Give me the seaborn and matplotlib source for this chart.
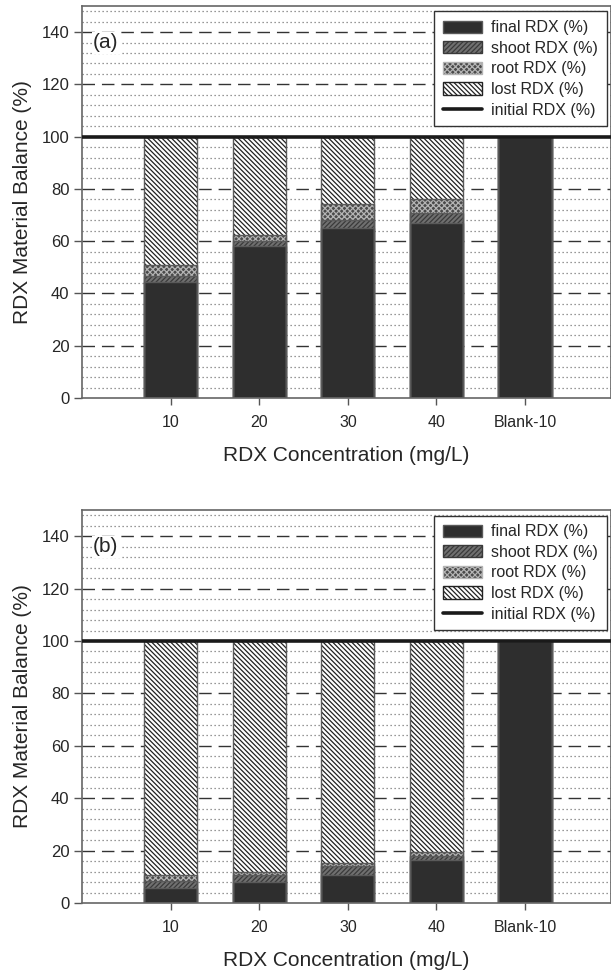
import numpy as np
import pandas as pd
import matplotlib
matplotlib.use("Agg")
import matplotlib.pyplot as plt
from matplotlib.patches import Patch
from matplotlib.lines import Line2D
import seaborn as sns

categories = ["10", "20", "30", "40", "Blank-10"]

final_a = [44.4, 58.1, 65.1, 66.9, 100.0]
shoot_a = [2.3, 1.9, 3.0, 3.7, 0.0]
root_a = [4.3, 2.2, 6.2, 5.7, 0.0]
lost_a = [49.0, 37.8, 25.7, 23.7, 0.0]

final_b = [5.9, 7.9, 10.6, 16.6, 100.0]
shoot_b = [2.5, 2.8, 3.4, 1.4, 0.0]
root_b = [2.1, 1.3, 1.3, 1.5, 0.0]
lost_b = [89.5, 88.0, 84.7, 80.5, 0.0]

initial_rdx = 100.0
yticks = [0, 20, 40, 60, 80, 100, 120, 140]
panel_labels = ["(a)", "(b)"]

sns.set_style("white")
plt.rcParams["font.family"] = ["Liberation Sans", "DejaVu Sans"]
plt.rcParams["hatch.linewidth"] = 0.9

fig = plt.figure(figsize=(6.11, 9.71), dpi=100)
ax_a = fig.add_axes([82 / 611, 1 - 398 / 971, 1 - 82 / 611, (398 - 6) / 971])
ax_b = fig.add_axes([82 / 611, 1 - 903 / 971, 1 - 82 / 611, (903 - 510) / 971])

EDGE = "#5a5a5a"
styles = {
    "lost": dict(face="white", hatch="\\" * 7, hcol="#222222"),
    "root": dict(face="#4a4a4a", hatch="x" * 6, hcol="#b4b4b4"),
    "shoot": dict(face="#707070", hatch="/" * 7, hcol="#3a3a3a"),
    "final": dict(face="#2e2e2e", hatch=None, hcol="#2e2e2e"),
}


def draw_panel(ax, final, shoot, root, lost, label):
    final = np.array(final)
    shoot = np.array(shoot)
    root = np.array(root)
    lost = np.array(lost)
    tops = {
        "final": final,
        "shoot": final + shoot,
        "root": final + shoot + root,
        "lost": final + shoot + root + lost,
    }
    for y in np.arange(4, 150, 4):
        if y % 20 == 0:
            continue
        ax.axhline(y, color="#777777", lw=0.9, ls=(0, (1, 2.2)), zorder=0.5)
    for y in [20, 40, 60, 80, 120, 140]:
        ax.axhline(y, color="#333333", lw=1.0, ls=(0, (9, 5)), zorder=0.6)

    for name in ["lost", "root", "shoot", "final"]:
        st = styles[name]
        df = pd.DataFrame({"cat": categories, "val": tops[name]})
        sns.barplot(data=df, x="cat", y="val", order=categories, ax=ax,
                    color=st["face"], saturation=1, width=0.6,
                    edgecolor=st["hcol"], hatch=st["hatch"], linewidth=0,
                    errorbar=None, zorder=2)
        sns.barplot(data=df, x="cat", y="val", order=categories, ax=ax,
                    fill=False, width=0.6, edgecolor=EDGE, linewidth=1.0,
                    errorbar=None, zorder=2.1)

    ax.axhline(initial_rdx, color="#1a1a1a", lw=2.6, zorder=3)

    ax.set_xlim(-1, 4.97)
    ax.set_ylim(0, 150)
    ax.set_yticks(yticks)
    ax.set_yticklabels([str(v) for v in yticks], fontsize=12)
    ax.tick_params(axis="x", labelsize=11.5, length=5, width=1, color="#555555", pad=7, direction="out", bottom=True)
    ax.tick_params(axis="y", length=6, width=1, color="#555555", pad=3, direction="out", left=True)
    ax.set_xlabel("RDX Concentration (mg/L)", fontsize=15, labelpad=12)
    ax.set_ylabel("RDX Material Balance (%)", fontsize=15, labelpad=7)
    for sp in ax.spines.values():
        sp.set_color("#666666")
        sp.set_linewidth(1.2)
    ax.text(-0.73, 136, label, fontsize=15, ha="center", va="center", zorder=4,
            bbox=dict(facecolor="white", edgecolor="none", pad=1))

    handles = [
        Patch(facecolor=styles["final"]["face"], edgecolor=EDGE, label="final RDX (%)"),
        Patch(facecolor=styles["shoot"]["face"], edgecolor=styles["shoot"]["hcol"], hatch=styles["shoot"]["hatch"], label="shoot RDX (%)"),
        Patch(facecolor=styles["root"]["face"], edgecolor=styles["root"]["hcol"], hatch=styles["root"]["hatch"], label="root RDX (%)"),
        Patch(facecolor="white", edgecolor="#222222", hatch=styles["lost"]["hatch"], label="lost RDX (%)"),
        Line2D([0], [0], color="#1a1a1a", lw=2.6, label="initial RDX (%)"),
    ]
    leg = ax.legend(handles=handles, loc="upper right", bbox_to_anchor=(0.992, 0.986),
                    fontsize=11.5, frameon=True, fancybox=False, framealpha=1,
                    edgecolor="#333333", handlelength=2.4, handleheight=0.8,
                    labelspacing=0.35, borderpad=0.55, handletextpad=0.6, borderaxespad=0)
    leg.get_frame().set_linewidth(1.0)
    leg.set_zorder(5)


draw_panel(ax_a, final_a, shoot_a, root_a, lost_a, panel_labels[0])
draw_panel(ax_b, final_b, shoot_b, root_b, lost_b, panel_labels[1])

fig.savefig("out.png", dpi=100)
